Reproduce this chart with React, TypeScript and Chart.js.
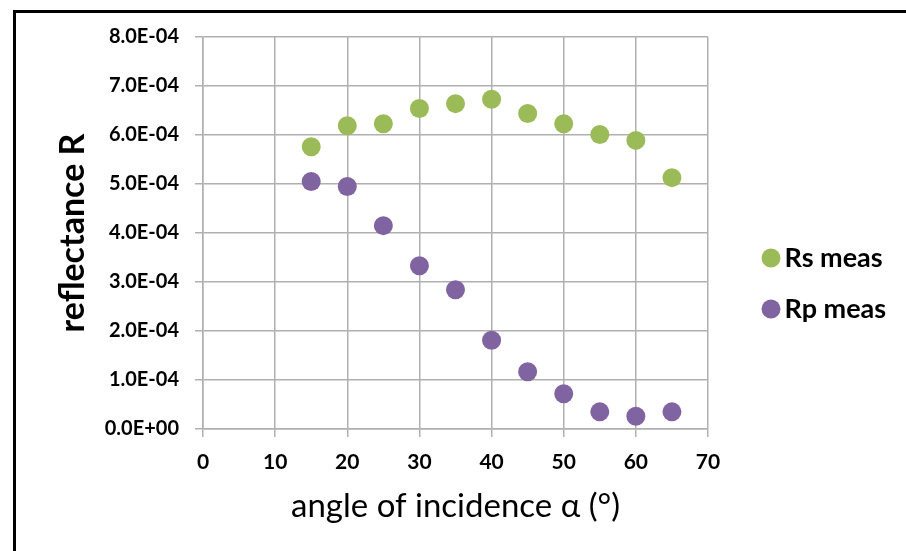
import React, { useEffect, useRef } from "react";
import { Chart, registerables } from "chart.js";

Chart.register(...registerables);

const angles = [15, 20, 25, 30, 35, 40, 45, 50, 55, 60, 65];
const rsMeas = [5.76e-4, 6.19e-4, 6.23e-4, 6.54e-4, 6.64e-4, 6.73e-4, 6.44e-4, 6.23e-4, 6.01e-4, 5.89e-4, 5.13e-4];
const rpMeas = [5.05e-4, 4.95e-4, 4.15e-4, 3.33e-4, 2.84e-4, 1.81e-4, 1.17e-4, 0.72e-4, 0.35e-4, 0.26e-4, 0.35e-4];
const seriesNames = ["Rs meas", "Rp meas"];
const yTickLabels = ["0.0E+00", "1.0E-04", "2.0E-04", "3.0E-04", "4.0E-04", "5.0E-04", "6.0E-04", "7.0E-04", "8.0E-04"];
const xTitle = "angle of incidence α (°)";
const yTitle = "reflectance R";

const W = 906;
const H = 551;
const FONT = "Lato";
const LEGEND_SIZE = 27;
const LEGEND_PAD = 24;
const LEGEND_BOX = 0.01;
const SPACER = 39;
const CHART_RIGHT = 708;

export default function App() {
  const ref = useRef<HTMLCanvasElement | null>(null);

  useEffect(() => {
    const canvas = ref.current;
    if (!canvas) return;
    const mctx = canvas.getContext("2d")!;
    mctx.font = `bold ${LEGEND_SIZE}px ${FONT}`;
    const textW = Math.max(...seriesNames.map((s) => mctx.measureText(s).width));
    const legendW = LEGEND_PAD + LEGEND_BOX + LEGEND_SIZE / 2 + textW + 10;
    const padRight = W - CHART_RIGHT - SPACER - legendW;

    const chart = new Chart(canvas, {
      type: "scatter",
      data: {
        datasets: [
          {
            label: seriesNames[0],
            data: angles.map((a, i) => ({ x: a, y: rsMeas[i] })),
            backgroundColor: "#9BBB59",
            borderColor: "#9BBB59",
            borderWidth: 0,
            pointRadius: 9.5,
            pointHoverRadius: 9.5,
            yAxisID: "y",
          },
          {
            label: seriesNames[1],
            data: angles.map((a, i) => ({ x: a, y: rpMeas[i] })),
            backgroundColor: "#8064A2",
            borderColor: "#8064A2",
            borderWidth: 0,
            pointRadius: 9.5,
            pointHoverRadius: 9.5,
            yAxisID: "y",
          },
        ],
      },
      options: {
        responsive: false,
        animation: false,
        layout: { padding: { top: 37, bottom: 21, left: 0, right: padRight } },
        plugins: {
          tooltip: { enabled: false },
          legend: {
            position: "right",
            align: "center",
            labels: {
              usePointStyle: true,
              pointStyle: "circle",
              boxWidth: LEGEND_BOX,
              boxHeight: 13.4,
              padding: LEGEND_PAD,
              color: "#000",
              font: { family: FONT, size: LEGEND_SIZE, weight: "bold" },
            },
          },
        },
        scales: {
          x: {
            type: "linear",
            position: "bottom",
            min: 0,
            max: 70,
            ticks: {
              stepSize: 10,
              padding: 13,
              color: "#000",
              font: { family: FONT, size: 21, weight: "bold" },
            },
            grid: { color: "#b0b0b0", lineWidth: 1.5, tickLength: 8 },
            border: { color: "#b0b0b0", width: 1.5 },
            title: {
              display: true,
              text: xTitle,
              color: "#000",
              font: { family: FONT, size: 33, weight: "normal" },
              padding: { top: 0, bottom: 3.5 },
            },
            afterFit: (s: any) => {
              s.height = 101;
            },
          },
          y: {
            type: "linear",
            position: "left",
            min: 0,
            max: 8e-4,
            ticks: {
              stepSize: 1e-4,
              padding: 16,
              color: "#000",
              font: { family: FONT, size: 20, weight: "bold" },
              callback: (v: any) => yTickLabels[Math.round(Number(v) / 1e-4)] ?? "",
            },
            grid: { color: "#b0b0b0", lineWidth: 1.5, tickLength: 8 },
            border: { color: "#b0b0b0", width: 1.5 },
            title: {
              display: true,
              text: yTitle,
              color: "#000",
              font: { family: FONT, size: 34, weight: "bold" },
              padding: { top: 52.6, bottom: 0 },
            },
            afterFit: (s: any) => {
              s.width = 203;
            },
          },
          spacer: {
            type: "linear",
            position: "right",
            display: true,
            grid: { display: false },
            border: { display: false },
            ticks: { display: false },
            afterFit: (s: any) => {
              s.width = SPACER;
            },
          },
        },
      },
    } as any);
    return () => chart.destroy();
  }, []);

  return (
    <div
      style={{
        position: "absolute",
        left: 0,
        top: 0,
        width: W,
        height: H,
        overflow: "hidden",
        background: "#fff",
      }}
    >
      <div
        style={{
          position: "absolute",
          left: 13,
          top: 10,
          width: 2000,
          height: 2000,
          border: "3px solid #000",
          pointerEvents: "none",
        }}
      />
      <canvas
        ref={ref}
        width={W}
        height={H}
        style={{ position: "absolute", left: 0, top: 0, width: W, height: H }}
      />
    </div>
  );
}
